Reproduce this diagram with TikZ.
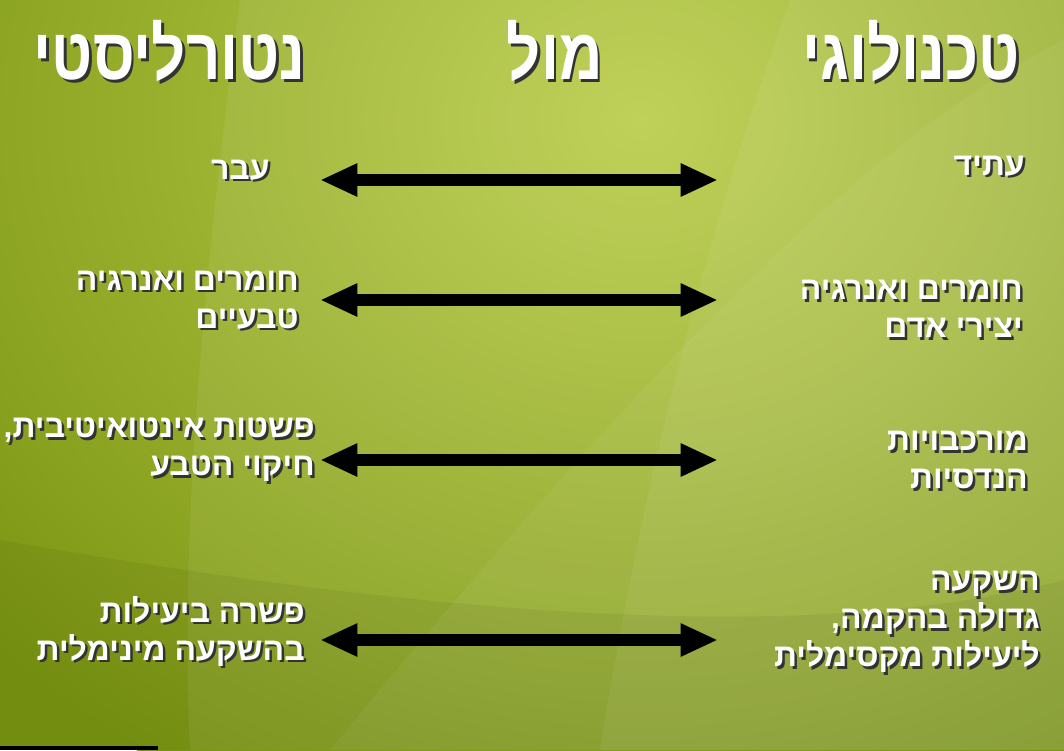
\documentclass[tikz,border=0pt]{standalone}
\usepackage{fontspec}
\usepackage{tikz}
\usetikzlibrary{arrows.meta, calc}
\TeXXeTstate=1
\newfontfamily\hebfont[Script=Hebrew]{Liberation Sans}
\definecolor{bgdark}{HTML}{7A9512}
\definecolor{bgmid}{HTML}{94AE22}
\definecolor{bglight}{HTML}{BCCE4E}
\tikzset{
x=0.75pt, y=-0.75pt, % one unit is one pixel of the slide, y runs down
twoway/.style={line width=9pt, {Triangle[length=28pt, width=23pt]}-{Triangle[length=28pt, width=23pt]}}, % the black double arrows
bodytxt/.style={font=\hebfont\bfseries\fontsize{24}{28.5}\selectfont, align=right, inner sep=0pt, anchor=east}, % the row texts
headtxt/.style={font=\hebfont\bfseries\fontsize{42}{50}\selectfont, inner sep=0pt, anchor=east}, % the three titles
}
% text with a dark drop shadow: style, name, position, text
\newcommand{\shadowtext}[4]{%
  \node[#1, text=black!80] (#2s) at ($(#3)+(2.5,2.5)$) {#4};
  \node[#1, text=white] (#2) at (#3) {#4};
}
\newcommand{\rl}[1]{\beginR #1\endR}
\newcommand{\tallrl}[1]{\scalebox{1.07}[1.3]{\beginR #1\endR}}

\begin{document}
\begin{tikzpicture}
            % background
            \useasboundingbox (0,0) rectangle (1064,750);
            \fill[bgdark] (0,0) rectangle (1064,750);
            \begin{scope}
                \clip (0,0) rectangle (1064,750);
                \shade[inner color=bglight, outer color=bgdark] (640,120) ellipse (900 and 760);
                \fill[white, opacity=0.07] (240,0) .. controls (200,300) and (180,550) .. (190,750) -- (1064,750) -- (1064,0) -- cycle;
                \fill[white, opacity=0.06] (790,0) .. controls (700,250) and (640,500) .. (600,750) -- (1064,750) -- (1064,0) -- cycle;
                \fill[white, opacity=0.05] (1064,40) .. controls (900,120) and (700,300) .. (330,750) -- (1064,750) -- cycle;
                \fill[black, opacity=0.05] (0,540) .. controls (400,610) and (800,650) .. (1064,580) -- (1064,750) -- (0,750) -- cycle;
            \end{scope}
            \fill[black] (0,746) rectangle (158,750);

            % titles
            \coordinate (ttech) at (1020,51);
            \coordinate (tvs) at (603,51);
            \coordinate (tnat) at (306,51);
            \shadowtext{headtxt}{tech}{ttech}{\tallrl{טכנולוגי}}
            \shadowtext{headtxt}{vs}{tvs}{\tallrl{מול}}
            \shadowtext{headtxt}{nat}{tnat}{\tallrl{נטורליסטי}}

            % arrows
            \coordinate (a1l) at (320,180);
            \coordinate (a1r) at (718,180);
            \coordinate (a2l) at (320,300);
            \coordinate (a2r) at (718,300);
            \coordinate (a3l) at (320,460);
            \coordinate (a3r) at (718,460);
            \coordinate (a4l) at (320,640);
            \coordinate (a4r) at (718,640);
            \draw[twoway] (a1l) -- (a1r);
            \draw[twoway] (a2l) -- (a2r);
            \draw[twoway] (a3l) -- (a3r);
            \draw[twoway] (a4l) -- (a4r);

            % technological side
            \coordinate (r1) at (1025,166);
            \coordinate (r2) at (1023,309);
            \coordinate (r3) at (1028,460);
            \coordinate (r4) at (1040,622);
            \shadowtext{bodytxt}{future}{r1}{\rl{עתיד}}
            \shadowtext{bodytxt}{made}{r2}{\rl{חומרים ואנרגיה}\\\rl{יצירי אדם}}
            \shadowtext{bodytxt}{complex}{r3}{\rl{מורכבויות}\\\rl{הנדסיות}}
            \shadowtext{bodytxt}{invest}{r4}{\rl{השקעה}\\\rl{גדולה בהקמה,}\\\rl{ליעילות מקסימלית}}

            % naturalistic side
            \coordinate (l1) at (270,170);
            \coordinate (l2) at (299,300);
            \coordinate (l3) at (315,450);
            \coordinate (l4) at (305,631);
            \shadowtext{bodytxt}{past}{l1}{\rl{עבר}}
            \shadowtext{bodytxt}{natural}{l2}{\rl{חומרים ואנרגיה}\\\rl{טבעיים}}
            \shadowtext{bodytxt}{simple}{l3}{\rl{פשטות אינטואיטיבית,}\\\rl{חיקוי הטבע}}
            \shadowtext{bodytxt}{compromise}{l4}{\rl{פשרה ביעילות}\\\rl{בהשקעה מינימלית}}
\end{tikzpicture}
\end{document}
